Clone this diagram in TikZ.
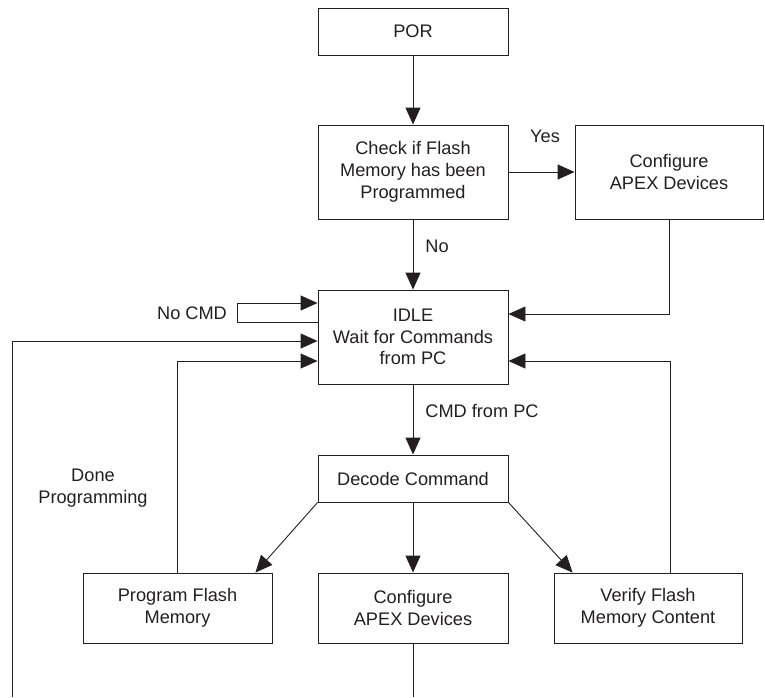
\documentclass[tikz,border=0pt]{standalone}
\usepackage{fontspec}
\setmainfont{Liberation Sans}
\usetikzlibrary{arrows.meta,calc}
\definecolor{ink}{HTML}{231F20}
\begin{document}
\begin{tikzpicture}[x=1pt,y=-1pt,
  box/.style={draw=ink,line width=0.9pt,rectangle,align=center,text=ink,
    font=\fontsize{18.2}{21.8}\selectfont,inner sep=0pt},
  lbl/.style={text=ink,font=\fontsize{18.2}{21.8}\selectfont,align=center,inner sep=0pt},
  line/.style={draw=ink,line width=0.9pt},
  arr/.style={line,-{Triangle[length=17pt,width=15pt]}}]
\useasboundingbox (0,0) rectangle (765,697);
\node[box,minimum width=190pt,minimum height=47pt] (por) at (413,31.5) {POR};
\node[box,minimum width=190pt,minimum height=94pt] (check) at (413,172) {Check if Flash\\Memory has been\\Programmed};
\node[box,minimum width=188pt,minimum height=94pt] (cfgA) at (669,172) {Configure\\APEX Devices};
\node[box,minimum width=190pt,minimum height=94pt] (idle) at (413,337) {IDLE\\Wait for Commands\\from PC};
\node[box,minimum width=190pt,minimum height=47pt] (decode) at (413,478.5) {Decode Command};
\node[box,minimum width=189pt,minimum height=70pt] (prog) at (177.5,608) {Program Flash\\Memory};
\node[box,minimum width=190pt,minimum height=70pt] (cfgB) at (413,608) {Configure\\APEX Devices};
\node[box,minimum width=188pt,minimum height=70pt] (verify) at (648,608) {Verify Flash\\Memory Content};

\node[lbl] (yes) at (545,136) {Yes};
\node[lbl] (no) at (437,246) {No};
\node[lbl] (cmdpc) at (482,411) {CMD from PC};
\node[lbl] (nocmd) at (192,313) {No CMD};
\node[lbl] (done) at (93,488) {Done\\Programming};

\coordinate (bm) at (413,697);
\coordinate (bl) at (12,697);

\draw[arr] (por.south) -- (check.north);
\draw[arr] (check.south) -- (idle.north);
\draw[arr] (check.east) -- (cfgA.west);
\draw[arr] (cfgA.south) |- ([yshift=23pt]idle.east);
\draw[arr] ([yshift=15pt]idle.west) -- ++(-80,0) |- ([yshift=34pt]idle.west);
\draw[arr] (bl) |- ([yshift=-4pt]idle.west);
\draw[arr] (prog.north) |- ([yshift=-24pt]idle.west);
\draw[arr] ([xshift=22pt]verify.north) |- ([yshift=-24pt]idle.east);
\draw[arr] (idle.south) -- (decode.north);
\draw[arr] (decode.south) -- (cfgB.north);
\draw[arr] (decode.south west) -- ([xshift=-17pt]prog.north east);
\draw[arr] (decode.south east) -- ([xshift=19pt]verify.north west);
\draw[line] (cfgB.south) -- (bm);
\end{tikzpicture}
\end{document}
